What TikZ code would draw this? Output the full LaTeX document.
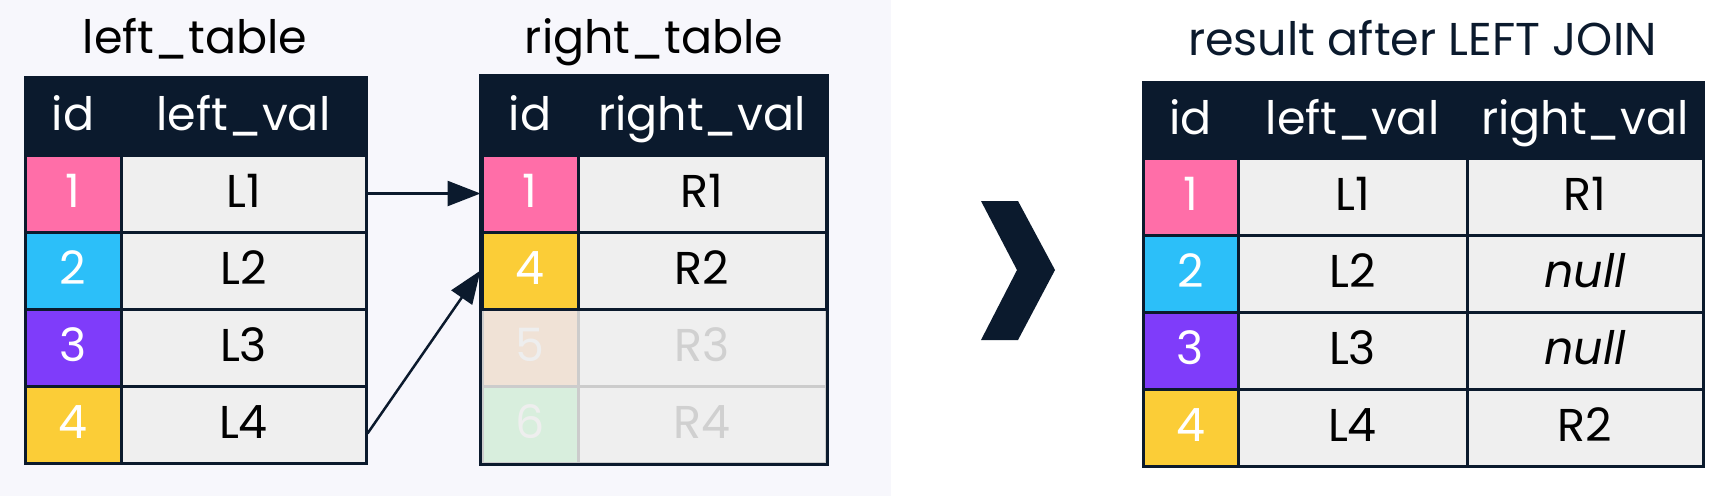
\documentclass[tikz,border=0pt]{standalone}
\usepackage{fontspec}
\setmainfont{Poppins}
\usetikzlibrary{arrows.meta}
\definecolor{navy}{HTML}{0B1A2D}
\definecolor{panel}{HTML}{F7F7FC}
\definecolor{pinkc}{HTML}{FF6EA8}
\definecolor{cyanc}{HTML}{2CBFF9}
\definecolor{purplec}{HTML}{7F3CFA}
\definecolor{yellowc}{HTML}{FBCD37}
\definecolor{cellgray}{HTML}{EFEFEF}
\definecolor{fadefive}{HTML}{F0E2D6}
\definecolor{fadesix}{HTML}{D8EEDD}
\definecolor{fadeline}{HTML}{CCCCCC}
\definecolor{fadetext}{HTML}{D0D0D0}
\definecolor{fadeid}{HTML}{EEEEEE}
\newcommand\fs{\fontsize{46}{50}\selectfont}
\begin{document}
\begin{tikzpicture}[x=1pt,y=-1pt]
\tikzset{
 cell/.style={draw=navy, line width=3pt, minimum height=77pt, inner sep=0pt, text height=28pt, text depth=0pt, font=\fs, text=black, fill=cellgray},
 hcell/.style={cell, fill=navy, text=white, minimum height=78pt},
 idcell/.style={cell, text=white},
 fcell/.style={cell, draw=fadeline},
 title/.style={anchor=base, font=\fs, text=black},
 link/.style={draw=navy, line width=2.5pt, -{Triangle[length=33pt,width=25pt]}}
}
\fill[white] (0,0) rectangle (1726,496);
\useasboundingbox (0,0) rectangle (1726,496);
\fill[panel] (0,0) rectangle (891,496);

% titles
\node[title] (tl) at (195,53) {left\_table};
\node[title] (tr) at (654,53) {right\_table};
\node[title, text=navy] (tres) at (1422.5,55) {result after LEFT JOIN};

% left table
\node[hcell, minimum width=96pt] (lhid) at (73,116) {id};
\node[hcell, minimum width=245pt] (lhval) at (243.5,116) {left\_val};
\node[idcell, minimum width=96pt, fill=pinkc] (lid1) at (73,193.5) {1};
\node[cell, minimum width=245pt] (lv1) at (243.5,193.5) {L1};
\node[idcell, minimum width=96pt, fill=cyanc] (lid2) at (73,270.5) {2};
\node[cell, minimum width=245pt] (lv2) at (243.5,270.5) {L2};
\node[idcell, minimum width=96pt, fill=purplec] (lid3) at (73,347.5) {3};
\node[cell, minimum width=245pt] (lv3) at (243.5,347.5) {L3};
\node[idcell, minimum width=96pt, fill=yellowc] (lid4) at (73,424.5) {4};
\node[cell, minimum width=245pt] (lv4) at (243.5,424.5) {L4};

% right table
\node[fcell, minimum width=96pt, fill=fadefive, text=fadeid] (rid5) at (530,347.5) {5};
\node[fcell, minimum width=248pt, text=fadetext] (rv5) at (702,347.5) {R3};
\node[fcell, minimum width=96pt, fill=fadesix, text=fadeid] (rid6) at (530,424.5) {6};
\node[fcell, minimum width=248pt, text=fadetext] (rv6) at (702,424.5) {R4};
\node[hcell, minimum width=96pt] (rhid) at (530,116) {id};
\node[hcell, minimum width=248pt] (rhval) at (702,116) {right\_val};
\node[idcell, minimum width=96pt, fill=pinkc] (rid1) at (530,193.5) {1};
\node[cell, minimum width=248pt] (rv1) at (702,193.5) {R1};
\node[idcell, minimum width=96pt, fill=yellowc] (rid4) at (530,270.5) {4};
\node[cell, minimum width=248pt] (rv2) at (702,270.5) {R2};
\draw[navy, line width=3pt] (rhid.north west) rectangle (rv6.south east);

% connectors
\draw[link] (lv1.east) -- (rid1.west);
\draw[link] ([yshift=-9pt]lv4.east) -- (rid4.west);

% chevron
\fill[navy] (981,201) -- (1018,201) -- (1055,270) -- (1018,340) -- (981,340) -- (1017,270) -- cycle;

% result table
\node[hcell, minimum width=95pt, minimum height=76pt] (ohid) at (1190.5,120) {id};
\node[hcell, minimum width=229pt, minimum height=76pt] (ohl) at (1352.5,120) {left\_val};
\node[hcell, minimum width=236pt, minimum height=76pt] (ohr) at (1585,120) {right\_val};
\node[idcell, minimum width=95pt, fill=pinkc] (oid1) at (1190.5,196.5) {1};
\node[cell, minimum width=229pt] (ol1) at (1352.5,196.5) {L1};
\node[cell, minimum width=236pt] (or1) at (1585,196.5) {R1};
\node[idcell, minimum width=95pt, fill=cyanc] (oid2) at (1190.5,273.5) {2};
\node[cell, minimum width=229pt] (ol2) at (1352.5,273.5) {L2};
\node[cell, minimum width=236pt] (or2) at (1585,273.5) {\itshape null};
\node[idcell, minimum width=95pt, fill=purplec] (oid3) at (1190.5,350.5) {3};
\node[cell, minimum width=229pt] (ol3) at (1352.5,350.5) {L3};
\node[cell, minimum width=236pt] (or3) at (1585,350.5) {\itshape null};
\node[idcell, minimum width=95pt, fill=yellowc] (oid4) at (1190.5,427.5) {4};
\node[cell, minimum width=229pt] (ol4) at (1352.5,427.5) {L4};
\node[cell, minimum width=236pt] (or4) at (1585,427.5) {R2};
\end{tikzpicture}
\end{document}
